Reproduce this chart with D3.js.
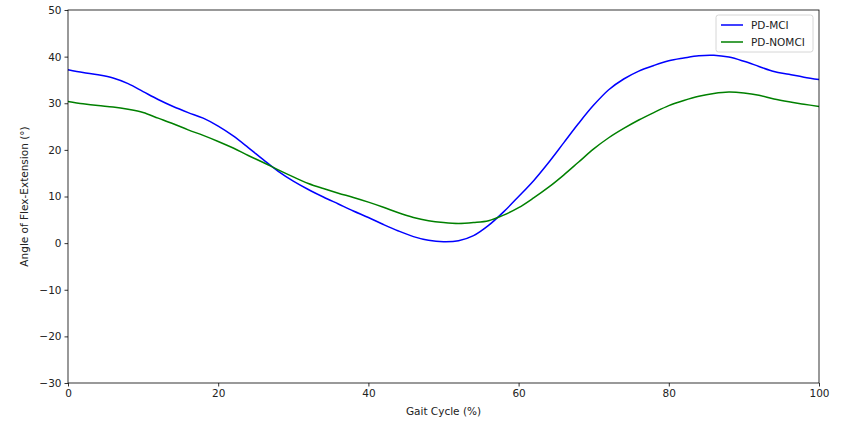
<!DOCTYPE html>
<html>
<head>
<meta charset="utf-8">
<script src="https://cdn.jsdelivr.net/npm/d3@7"></script>
<style>
  body { margin: 0; background: #fff; }
  text { font-family: "DejaVu Sans", sans-serif; fill: #222; }
</style>
</head>
<body>
<div id="chart"></div>
<script>
// gait cycle samples, every 2 %
var gaitCycle = d3.range(0, 101, 2);

var pdMci = [
  37.2, 36.6, 36.1, 35.4, 34.2, 32.5, 30.8, 29.3, 28.0, 26.8,
  25.1, 23.0, 20.5, 17.9, 15.4, 13.3, 11.5, 9.9, 8.4, 6.9,
  5.5, 4.0, 2.6, 1.4, 0.6, 0.3, 0.5, 1.6, 3.8, 6.7,
  10.0, 13.4, 17.3, 21.5, 25.7, 29.6, 32.9, 35.2, 36.9, 38.1,
  39.1, 39.7, 40.2, 40.3, 39.9, 39.0, 37.9, 36.8, 36.2, 35.6,
  35.1
];

var pdNoMci = [
  30.4, 29.9, 29.5, 29.2, 28.7, 28.0, 26.8, 25.6, 24.3, 23.1,
  21.8, 20.4, 18.8, 17.3, 15.7, 14.2, 12.8, 11.7, 10.7, 9.8,
  8.8, 7.7, 6.5, 5.5, 4.8, 4.4, 4.2, 4.4, 4.8, 6.0,
  7.6, 9.7, 12.0, 14.6, 17.4, 20.2, 22.6, 24.6, 26.4, 28.0,
  29.5, 30.6, 31.5, 32.1, 32.4, 32.2, 31.7, 30.9, 30.3, 29.8,
  29.3
];

var xTicks = [0, 20, 40, 60, 80, 100];
var yTicks = [-30, -20, -10, 0, 10, 20, 30, 40, 50];

var seriesNames = ["PD-MCI", "PD-NOMCI"];
var seriesColors = ["#0000ff", "#008000"];

var margin = { top: 10, right: 22, bottom: 38, left: 68 },
    width = 841 - margin.left - margin.right,
    height = 421 - margin.top - margin.bottom;

var svg = d3.select("#chart")
  .append("svg")
    .attr("width", 841)
    .attr("height", 421)
  .append("g")
    .attr("transform", "translate(" + margin.left + "," + margin.top + ")");

var x = d3.scaleLinear().domain([0, 100]).range([0, width]);
var y = d3.scaleLinear().domain([-30, 50]).range([height, 0]);

var fmt = function(d) { return d < 0 ? "\u2212" + Math.abs(d) : d; };

var xAxis = svg.append("g")
  .attr("transform", "translate(0," + height + ")")
  .call(d3.axisBottom(x).tickValues(xTicks).tickSize(3.5).tickPadding(3).tickFormat(fmt));

var yAxis = svg.append("g")
  .call(d3.axisLeft(y).tickValues(yTicks).tickSize(3.5).tickPadding(3).tickFormat(fmt));

[xAxis, yAxis].forEach(function(a) {
  a.select(".domain").remove();
  a.selectAll("line").attr("stroke", "#000").attr("stroke-width", 0.8);
  a.selectAll("text").style("font-size", "10.5px").attr("fill", "#222");
});

// lines
var line = d3.line()
  .x(function(d, i) { return x(gaitCycle[i]); })
  .y(function(d) { return y(d); })
  .curve(d3.curveCatmullRom);

[pdMci, pdNoMci].forEach(function(s, i) {
  svg.append("path")
    .datum(s)
    .attr("fill", "none")
    .attr("stroke", seriesColors[i])
    .attr("stroke-width", 1.5)
    .attr("d", line);
});

// frame
svg.append("rect")
  .attr("width", width)
  .attr("height", height)
  .attr("fill", "none")
  .attr("stroke", "#000")
  .attr("stroke-width", 0.8);

// axis labels
svg.append("text")
  .attr("x", width / 2)
  .attr("y", height + 32)
  .attr("text-anchor", "middle")
  .style("font-size", "10.5px")
  .text("Gait Cycle (%)");

svg.append("text")
  .attr("transform", "translate(-40," + (height / 2) + ")rotate(-90)")
  .attr("text-anchor", "middle")
  .style("font-size", "10.5px")
  .text("Angle of Flex-Extension (\u00b0)");

// legend
var legend = svg.append("g")
  .attr("transform", "translate(" + (width - 103) + ",5)");

legend.append("rect")
  .attr("width", 97)
  .attr("height", 37)
  .attr("rx", 2.5)
  .attr("fill", "#fff")
  .attr("fill-opacity", 0.8)
  .attr("stroke", "#ccc")
  .attr("stroke-width", 0.8);

seriesNames.forEach(function(name, i) {
  var row = legend.append("g")
    .attr("transform", "translate(0," + (10 + i * 17) + ")");
  row.append("line")
    .attr("x1", 5).attr("x2", 27)
    .attr("stroke", seriesColors[i])
    .attr("stroke-width", 1.5);
  row.append("text")
    .attr("x", 35)
    .attr("dy", "0.35em")
    .style("font-size", "10.5px")
    .text(name);
});
</script>
</body>
</html>
